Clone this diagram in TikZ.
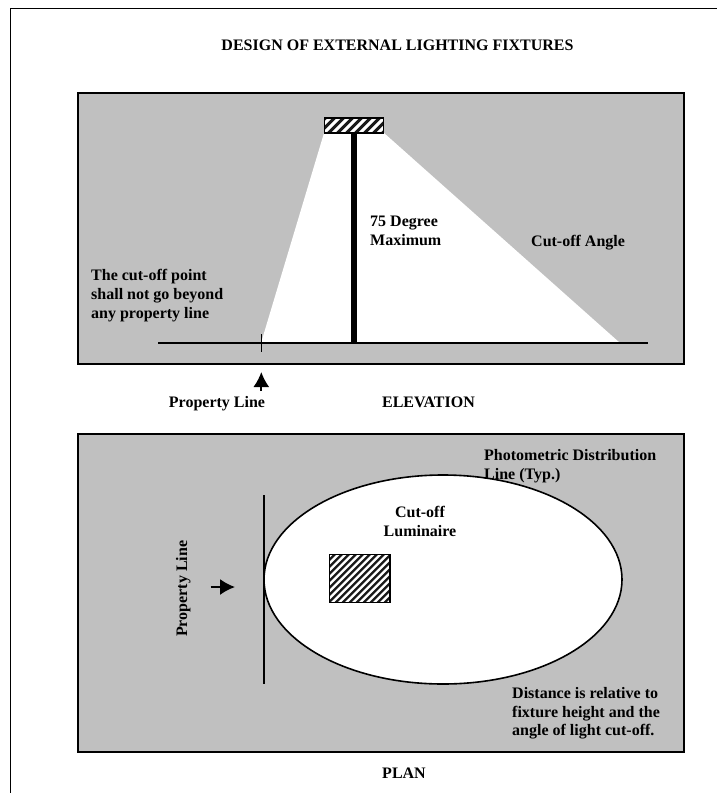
\documentclass[tikz,border=0pt]{standalone}
\usepackage{fontspec}
\setmainfont{Liberation Serif}
\usetikzlibrary{arrows.meta,positioning,shapes.geometric}
\definecolor{panelgray}{gray}{0.753}
\tikzset{
    panelsty/.style={draw,line width=1.8pt,fill=panelgray,rectangle,anchor=north west,outer sep=0pt},
    hatchsty/.style={draw,line width=1.4pt,fill=white,rectangle,anchor=north west,outer sep=0pt,
      path picture={\foreach \hk in {-12,...,12}
        \draw[line width=0.33*#1,black!90] ([xshift=\hk*#1]path picture bounding box.center) ++(-50,50) -- ++(100,-100);}},
    hatchsty/.default=7pt,
    labelsty/.style={font=\bfseries\fontsize{16}{18.6}\selectfont,align=left,inner sep=0pt,anchor=base west},
    ctrsty/.style={labelsty,align=center,anchor=base},
    linesty/.style={line width=1.7pt},
    arrowsty/.style={-{Latex[length=15pt,width=16pt]},line width=1.8pt},
}
\begin{document}
\begin{tikzpicture}[x=1pt,y=-1pt]
  \useasboundingbox (0,0) rectangle (717,793);
  % page frame
  \coordinate (framebl) at (10.7,793);
  \coordinate (frametl) at (10.7,8.7);
  \coordinate (frametr) at (717,8.7);
  \draw[line width=1.5pt] (framebl) -- (frametl) -- (frametr);
  \node[ctrsty] (title) at (397.5,50) {DESIGN OF EXTERNAL LIGHTING FIXTURES};

  % elevation
  \node[panelsty,minimum width=606pt,minimum height=271pt] (elevpanel) at (78,93) {};
  \coordinate (beamtl) at (324,133);
  \coordinate (beamtr) at (384,133);
  \coordinate (beambr) at (620,343);
  \coordinate (beambl) at (261,343);
  \fill[white] (beamtl) -- (beamtr) -- (beambr) -- (beambl) -- cycle;
  \node[hatchsty=9pt,minimum width=59.4pt,minimum height=15pt] (fixture) at (324.3,118) {};
  \coordinate (polebase) at (355,343);
  \draw[line width=5.5pt] (fixture.south) -- (fixture.south |- polebase);
  \coordinate (groundl) at (158,343.3);
  \coordinate (groundr) at (648,343.3);
  \draw[linesty] (groundl) -- (groundr);
  \coordinate (ticktop) at (261.3,334);
  \coordinate (tickbot) at (261.3,352);
  \draw[line width=1pt] (ticktop) -- (tickbot);
  \node[labelsty] (degree) at (370,245) {75 Degree\\Maximum};
  \node[labelsty] (cutangle) at (531,246) {Cut-off Angle};
  \node[labelsty] (cutpoint) at (91,318) {The cut-off point\\shall not go beyond\\any property line};
  \node[ctrsty] (proplabel) at (217,407) {Property Line};
  \node[ctrsty] (elevlabel) at (428.5,407) {ELEVATION};
  \coordinate (uptail) at (261.3,391);
  \coordinate (uptip) at (261.3,372);
  \draw[arrowsty] (uptail) -- (uptip);

  % plan
  \node[panelsty,minimum width=606pt,minimum height=318pt] (planpanel) at (78,434) {};
  \node[draw,fill=white,ellipse,line width=1.6pt,minimum width=358pt,minimum height=209pt,inner sep=0pt,outer sep=0pt] (lightpool) at (443,579.5) {};
  \coordinate (linetop) at (264,495);
  \coordinate (linebot) at (264,684);
  \draw[linesty] (linetop) -- (linebot);
  \node[hatchsty,minimum width=60.7pt,minimum height=48.4pt] (luminaire) at (329.3,554.3) {};
  \node[ctrsty] (lumlabel) at (420,536) {Cut-off\\Luminaire};
  \node[labelsty] (photolabel) at (484,479) {Photometric Distribution\\Line (Typ.)};
  \node[labelsty] (distlabel) at (512,735.7) {Distance is relative to\\fixture height and the\\angle of light cut-off.};
  \node[labelsty,rotate=90] (propvert) at (187,637) {Property Line};
  \coordinate (arrowtail) at (210.7,587);
  \coordinate (arrowtip) at (235,587);
  \draw[arrowsty] (arrowtail) -- (arrowtip);
  \node[ctrsty] (planlabel) at (404,778) {PLAN};
\end{tikzpicture}
\end{document}
